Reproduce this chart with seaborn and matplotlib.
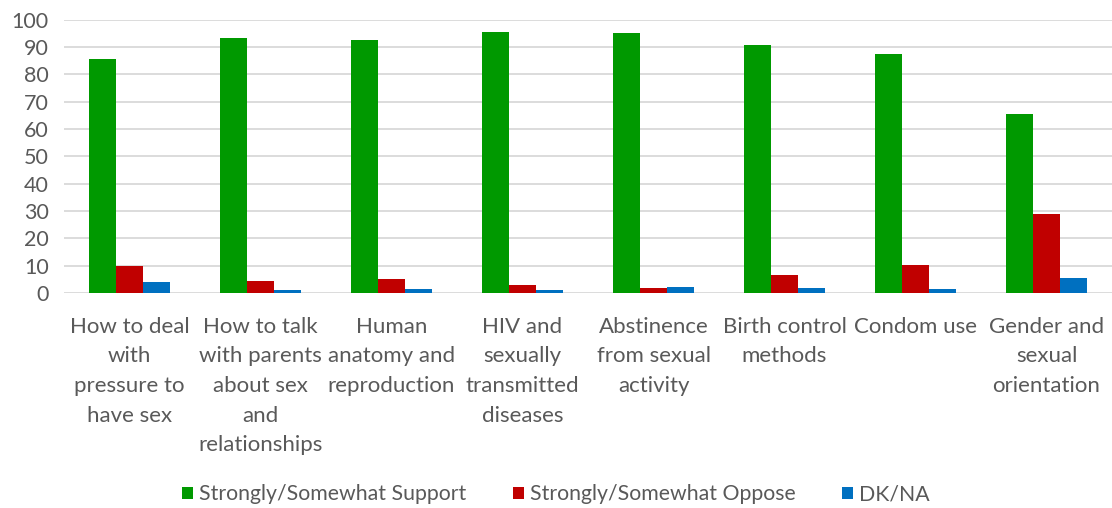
import matplotlib
matplotlib.use("Agg")
import matplotlib.pyplot as plt
import seaborn as sns
import pandas as pd

categories = [
    "How to deal\nwith\npressure to\nhave sex",
    "How to talk\nwith parents\nabout sex\nand\nrelationships",
    "Human\nanatomy and\nreproduction",
    "HIV and\nsexually\ntransmitted\ndiseases",
    "Abstinence\nfrom sexual\nactivity",
    "Birth control\nmethods",
    "Condom use",
    "Gender and\nsexual\norientation",
]
support = [85.5, 93.5, 92.7, 95.6, 95.1, 90.8, 87.6, 65.5]
oppose = [10.1, 4.3, 5.2, 2.8, 2.0, 6.6, 10.2, 28.9]
dkna = [4.0, 1.1, 1.6, 1.1, 2.3, 1.7, 1.5, 5.6]
series_names = ["Strongly/Somewhat Support", "Strongly/Somewhat Oppose", "DK/NA"]
colors = ["#009900", "#C00000", "#0070C0"]
yticks = [0, 10, 20, 30, 40, 50, 60, 70, 80, 90, 100]

rows = []
for name, vals in zip(series_names, [support, oppose, dkna]):
    for c, v in zip(categories, vals):
        rows.append({"category": c, "series": name, "value": v})
df = pd.DataFrame(rows)

sns.set_style("white")
plt.rcParams["font.family"] = ["Lato", "DejaVu Sans"]
text_color = "#595959"
fs = 16

fig = plt.figure(figsize=(11.12, 5.08), dpi=100)
ax = fig.add_axes([0.0576, 0.423, 0.9424, 0.538])

sns.barplot(data=df, x="category", y="value", hue="series", order=categories,
            hue_order=series_names, palette=colors, width=0.62, ax=ax,
            linewidth=0, errorbar=None, legend=True, saturation=1)

ax.set_ylim(0, 100)
ax.set_xlim(-0.5, len(categories) - 0.5)
ax.set_yticks(yticks)
ax.yaxis.grid(True, color="#D9D9D9", linewidth=1.3)
ax.set_axisbelow(True)
for s in ax.spines.values():
    s.set_visible(False)
ax.set_xlabel("")
ax.set_ylabel("")
ax.tick_params(axis="y", length=0, pad=11, labelsize=15.5, labelcolor=text_color)
ax.tick_params(axis="x", length=0, pad=17, labelsize=fs, labelcolor=text_color)
for lbl in ax.get_xticklabels():
    lbl.set_linespacing(1.6)
    lbl.set_verticalalignment("top")

handles, labels = ax.get_legend_handles_labels()
ax.get_legend().remove()
leg = fig.legend(handles, labels, loc="center", bbox_to_anchor=(0.5, 0.027),
                 ncol=3, frameon=False, fontsize=15.3, handlelength=0.5,
                 handleheight=0.5, handletextpad=0.3, columnspacing=2.2)
for t in leg.get_texts():
    t.set_color(text_color)

fig.savefig("out.png", dpi=100)
